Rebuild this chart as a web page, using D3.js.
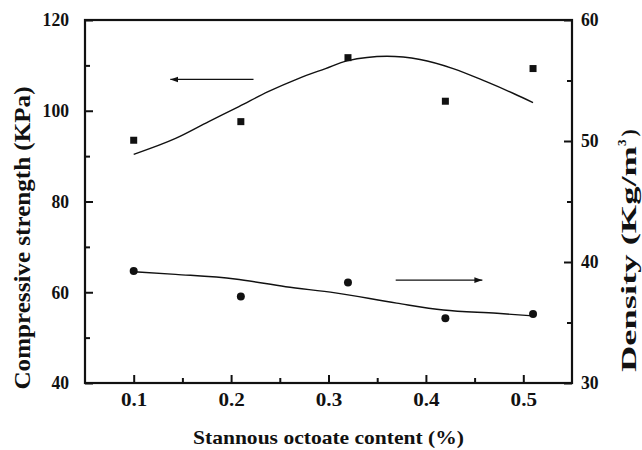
<!DOCTYPE html>
<html><head><meta charset="utf-8">
<script src="https://cdn.jsdelivr.net/npm/d3@7"></script>
<style>
body{margin:0;background:#fff;}
svg{display:block;}
text{font-family:"Liberation Serif","Times New Roman",Times,serif;font-weight:bold;fill:#111;}
</style></head>
<body><svg id="c" width="642" height="450"></svg>
<script>
// ---- data ----
const content = [0.1, 0.21, 0.32, 0.42, 0.51];
const strength = [93.5, 97.6, 111.7, 102.1, 109.3];
const density = [39.26, 37.15, 38.3, 35.35, 35.7];
const strengthFitX = [0.1, 0.143, 0.177, 0.208, 0.238, 0.269, 0.297, 0.319, 0.36, 0.394, 0.428, 0.462, 0.49, 0.51];
const strengthFitY = [90.4, 93.9, 97.6, 100.9, 104.2, 107.1, 109.3, 111.0, 112.0, 111.3, 109.3, 106.4, 103.8, 101.8];
const densityFitX = [0.1, 0.143, 0.204, 0.256, 0.307, 0.37, 0.418, 0.473, 0.51];
const densityFitY = [39.2, 38.98, 38.6, 37.96, 37.45, 36.6, 36.03, 35.76, 35.55];
const xMajor = [0.1, 0.2, 0.3, 0.4, 0.5];
const xMinor = [0.15, 0.25, 0.35, 0.45];
const yLeftMajor = [40, 60, 80, 100, 120];
const yLeftMinor = [50, 70, 90, 110];
const yRightMajor = [30, 40, 50, 60];
const yRightMinor = [35, 45, 55];
const arrowStrength = {x: [0.223, 0.1376], y: 106.9};
const arrowDensity = {x: [0.369, 0.458], y: 38.5};
const xTitle = "Stannous octoate content (%)";
const yLeftTitle = "Compressive strength (KPa)";

// ---- layout ----
const L = 85, R = 572, T = 20, B = 383;
const FONT = "'Liberation Serif','Times New Roman',Times,serif";
const svg = d3.select("#c");
const x = d3.scaleLinear().domain([0.05, 0.55]).range([L, R]);
const yL = d3.scaleLinear().domain([40, 120]).range([B, T]);
const yR = d3.scaleLinear().domain([30, 60]).range([B, T]);

svg.append("defs").append("marker").attr("id","ah").attr("viewBox","0 0 10 10")
  .attr("refX",10).attr("refY",5).attr("markerWidth",8).attr("markerHeight",8)
  .attr("markerUnits","userSpaceOnUse").attr("orient","auto")
  .append("path").attr("d","M0,1.5 L10,5 L0,8.5 Z").attr("fill","#111");

function styleAxis(g){
  g.attr("font-family", FONT).attr("font-weight","bold");
  g.select(".domain").remove();
  g.selectAll("line").attr("stroke","#111").attr("stroke-width",2);
  g.selectAll("text").attr("font-size",18).attr("fill","#111")
   .attr("font-family",FONT).attr("font-weight","bold")
   .each(function(){ const t=d3.select(this); const n=t.text().length;
     if(n) t.attr("textLength", n*8.8).attr("lengthAdjust","spacingAndGlyphs"); });
}
// bottom
svg.append("g").attr("transform",`translate(0,${B})`)
  .call(d3.axisBottom(x).tickValues(xMajor).tickFormat(d3.format(".1f")).tickSizeInner(-8).tickSizeOuter(0).tickPadding(10))
  .call(styleAxis);
svg.append("g").attr("transform",`translate(0,${B})`)
  .call(d3.axisBottom(x).tickValues(xMinor).tickFormat("").tickSizeInner(-5).tickSizeOuter(0))
  .call(styleAxis);
// left
svg.append("g").attr("transform",`translate(${L},0)`)
  .call(d3.axisLeft(yL).tickValues(yLeftMajor).tickSizeInner(-8).tickSizeOuter(0).tickPadding(16))
  .call(styleAxis);
svg.append("g").attr("transform",`translate(${L},0)`)
  .call(d3.axisLeft(yL).tickValues(yLeftMinor).tickFormat("").tickSizeInner(-5).tickSizeOuter(0))
  .call(styleAxis);
// right
svg.append("g").attr("transform",`translate(${R},0)`)
  .call(d3.axisRight(yR).tickValues(yRightMajor).tickSizeInner(-8).tickSizeOuter(0).tickPadding(9))
  .call(styleAxis);
svg.append("g").attr("transform",`translate(${R},0)`)
  .call(d3.axisRight(yR).tickValues(yRightMinor).tickFormat("").tickSizeInner(-5).tickSizeOuter(0))
  .call(styleAxis);

// frame
svg.append("rect").attr("x",L).attr("y",T).attr("width",R-L).attr("height",B-T)
  .attr("fill","none").attr("stroke","#111").attr("stroke-width",2.2);

// fit curves
const line = d3.line().curve(d3.curveMonotoneX);
svg.append("path").attr("fill","none").attr("stroke","#111").attr("stroke-width",1.4)
  .attr("d", line(strengthFitX.map((v,i)=>[x(v), yL(strengthFitY[i])])));
svg.append("path").attr("fill","none").attr("stroke","#111").attr("stroke-width",1.4)
  .attr("d", line(densityFitX.map((v,i)=>[x(v), yR(densityFitY[i])])));

// markers
svg.selectAll(".sq").data(content).join("rect")
  .attr("x",(d)=>x(d)-3.5).attr("y",(d,i)=>yL(strength[i])-3.5)
  .attr("width",7).attr("height",7).attr("fill","#111");
svg.selectAll(".ci").data(content).join("circle")
  .attr("cx",(d)=>x(d)).attr("cy",(d,i)=>yR(density[i])).attr("r",4).attr("fill","#111");

// arrows
svg.append("line").attr("x1",x(arrowStrength.x[0])).attr("x2",x(arrowStrength.x[1]))
  .attr("y1",yL(arrowStrength.y)).attr("y2",yL(arrowStrength.y))
  .attr("stroke","#111").attr("stroke-width",1.3).attr("marker-end","url(#ah)");
svg.append("line").attr("x1",x(arrowDensity.x[0])).attr("x2",x(arrowDensity.x[1]))
  .attr("y1",yR(arrowDensity.y)).attr("y2",yR(arrowDensity.y))
  .attr("stroke","#111").attr("stroke-width",1.3).attr("marker-end","url(#ah)");

// titles
svg.append("text").attr("x",(L+R)/2).attr("y",444).attr("text-anchor","middle")
  .attr("font-size",19).attr("textLength",271).attr("lengthAdjust","spacingAndGlyphs").text(xTitle);
svg.append("text").attr("transform","translate(30,238) rotate(-90)").attr("text-anchor","middle")
  .attr("font-size",23).attr("textLength",303).attr("lengthAdjust","spacingAndGlyphs").text(yLeftTitle);
const rt = svg.append("text").attr("transform","translate(636,372) rotate(-90)").attr("text-anchor","start")
  .attr("font-size",22);
rt.append("tspan").attr("textLength",226).attr("lengthAdjust","spacingAndGlyphs").text("Density (Kg/m");
rt.append("tspan").attr("font-size",13).attr("dy",-10).text("3");
rt.append("tspan").attr("dy",10).attr("dx",3).text(")");
</script></body></html>
